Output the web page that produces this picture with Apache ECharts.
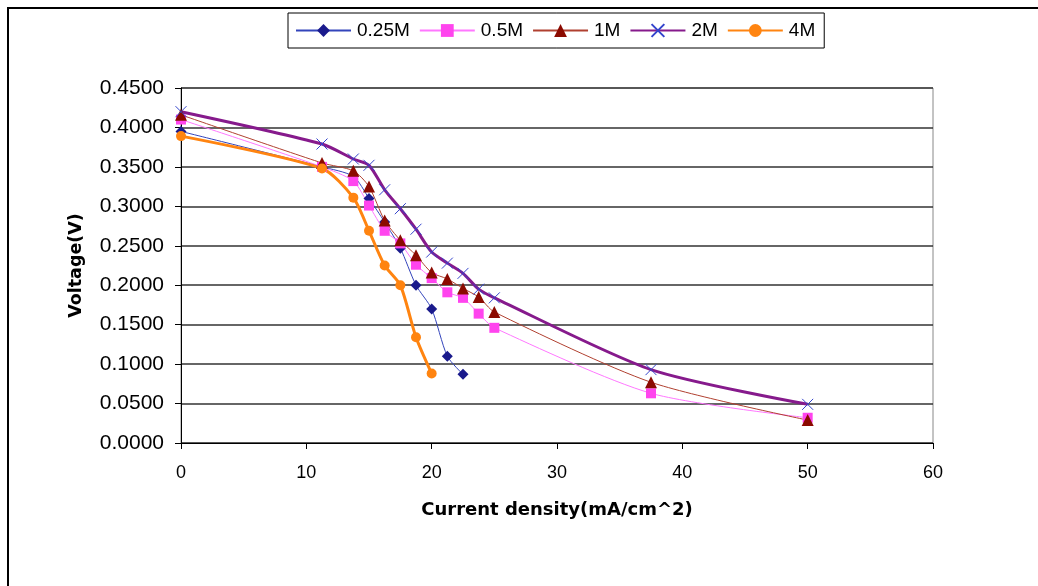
<!DOCTYPE html>
<html>
<head>
<meta charset="utf-8">
<script src="https://cdn.jsdelivr.net/npm/echarts@6/dist/echarts.min.js"></script>
<style>
html,body{margin:0;padding:0;background:#fff;}
#frame{position:absolute;left:7px;top:7px;width:1040px;height:590px;border-left:2px solid #000;border-top:2px solid #000;}
#chart{position:absolute;left:0;top:0;width:1038px;height:586px;}
</style>
</head>
<body>
<div id="frame"></div>
<div id="chart"></div>
<script>
const xValues = [0, 11.25, 13.75, 15, 16.25, 17.5, 18.75, 20, 21.25, 22.5, 23.75, 25, 37.5, 50];
const seriesNames = ['0.25M', '0.5M', '1M', '2M', '4M'];
const v025 = [0.395, 0.350, 0.338, 0.310, 0.280, 0.247, 0.200, 0.170, 0.110, 0.087];
const v05  = [0.410, 0.350, 0.332, 0.301, 0.269, 0.253, 0.226, 0.209, 0.191, 0.184, 0.164, 0.146, 0.063, 0.032];
const v1   = [0.416, 0.355, 0.345, 0.325, 0.282, 0.257, 0.238, 0.216, 0.208, 0.196, 0.185, 0.166, 0.077, 0.029];
const v2   = [0.420, 0.379, 0.360, 0.352, 0.321, 0.297, 0.271, 0.242, 0.228, 0.215, 0.195, 0.184, 0.093, 0.049];
const v4   = [0.389, 0.348, 0.311, 0.269, 0.225, 0.200, 0.134, 0.088];
const yTicks = [0, 0.05, 0.1, 0.15, 0.2, 0.25, 0.3, 0.35, 0.4, 0.45];

function pairs(vals){ return vals.map((v,i)=>[xValues[i], v]); }

const font = 'Liberation Sans, Arial, sans-serif';
const titleFont = 'DejaVu Sans, Liberation Sans, sans-serif';
const chart = echarts.init(document.getElementById('chart'));
chart.setOption({
  animation: false,
  backgroundColor: 'transparent',
  legend: {
    left: 288, top: 13,
    padding: [8, 9, 8, 7],
    borderColor: '#000', borderWidth: 1,
    itemWidth: 55, itemHeight: 16, itemGap: 9,
    textStyle: {fontFamily: font, fontSize: 19, color: '#000', padding: [0, 0, 0, 1]},
    data: seriesNames
  },
  grid: {left: 181, right: 105, top: 88, bottom: 143, show: true, borderColor: '#888', borderWidth: 1},
  xAxis: {
    type: 'value', min: 0, max: 60, interval: 10,
    name: 'Current density(mA/cm^2)', nameLocation: 'middle', nameGap: 58,
    nameTextStyle: {fontFamily: titleFont, fontSize: 18, fontWeight: 'bold', color: '#000'},
    axisLine: {lineStyle: {color: '#000', width: 1}},
    axisTick: {show: true, inside: false, length: 6, lineStyle: {color: '#000'}},
    axisLabel: {fontFamily: font, fontSize: 18, color: '#000', margin: 21},
    splitLine: {show: false}
  },
  yAxis: {
    type: 'value', min: 0, max: 0.45, interval: 0.05,
    name: 'Voltage(V)', nameLocation: 'middle', nameGap: 96, nameRotate: 90,
    nameTextStyle: {fontFamily: titleFont, fontSize: 17.5, fontWeight: 'bold', color: '#000'},
    axisLine: {show: true, lineStyle: {color: '#000', width: 1}},
    axisTick: {show: true, inside: false, length: 6, lineStyle: {color: '#000'}},
    axisLabel: {fontFamily: font, fontSize: 21, color: '#000', margin: 17,
      formatter: v => v.toFixed(4)},
    splitLine: {show: true, lineStyle: {color: '#333', width: 1.5}}
  },
  series: [
    {name: '0.25M', type: 'line', data: pairs(v025), smooth: 0.25,
      symbol: 'diamond', symbolSize: 11,
      lineStyle: {color: '#3344bb', width: 1},
      itemStyle: {color: '#1a1a8c'}},
    {name: '0.5M', type: 'line', data: pairs(v05), smooth: 0.25,
      symbol: 'rect', symbolSize: 10,
      lineStyle: {color: '#ff77ff', width: 1},
      itemStyle: {color: '#ff44ee'}},
    {name: '1M', type: 'line', data: pairs(v1), smooth: 0.25,
      symbol: 'triangle', symbolSize: 12,
      lineStyle: {color: '#b04030', width: 1},
      itemStyle: {color: '#8b0a00'}},
    {name: '2M', type: 'line', data: pairs(v2), smooth: 0.25,
      symbol: 'path://M0,0L10,10M10,0L0,10', symbolSize: 11,
      lineStyle: {color: '#861a8c', width: 3},
      itemStyle: {color: 'none', borderColor: '#3344cc', borderWidth: 1}},
    {name: '4M', type: 'line', data: pairs(v4), smooth: 0.25,
      symbol: 'circle', symbolSize: 10,
      lineStyle: {color: '#ff8410', width: 3},
      itemStyle: {color: '#ff8410'}}
  ]
});
</script>
</body>
</html>
